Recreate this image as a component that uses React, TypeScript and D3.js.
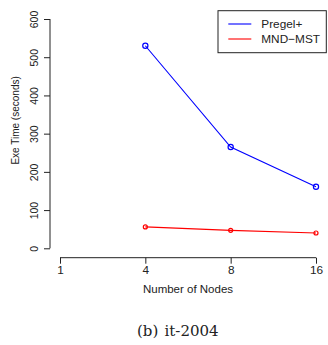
import { useEffect, useRef } from 'react';
import * as d3 from 'd3';

// chart data
const nodeCounts = ['1', '4', '8', '16'];
const seriesNames = ['Pregel+', 'MND-MST'];
const seriesColors = ['#0000ff', '#ff0000'];
const pregelNodes = ['4', '8', '16'];
const pregelTimes = [530, 265, 161];
const mndNodes = ['4', '8', '16'];
const mndTimes = [56, 47, 40];
const yTicks = [0, 100, 200, 300, 400, 500, 600];

const W = 328;
const H = 345;
const sans = 'Liberation Sans, Arial, Helvetica, sans-serif';

export default function App() {
  const svgRef = useRef<SVGSVGElement>(null);

  useEffect(() => {
    const svg = d3.select(svgRef.current);
    svg.selectAll('*').remove();

    const x = d3.scalePoint<string>().domain(nodeCounts).range([60, 316]);
    const y = d3.scaleLinear().domain([0, 600]).range([248.3, 19]);

    // y axis (R style, rotated labels)
    const yAxis = svg.append('g')
      .attr('transform', 'translate(50,0)')
      .call(d3.axisLeft(y).tickValues(yTicks).tickSize(6).tickSizeOuter(0).tickFormat(d3.format('d')));
    yAxis.select('.domain').attr('stroke', '#222').attr('d', `M0,${y(0)}V${y(600)}`);
    yAxis.selectAll('.tick line').attr('stroke', '#222');
    yAxis.selectAll('.tick text')
      .attr('x', null).attr('dy', null)
      .attr('transform', 'translate(-16,0) rotate(-90)')
      .attr('text-anchor', 'middle')
      .attr('dominant-baseline', 'central')
      .attr('fill', '#222')
      .style('font-family', sans)
      .style('font-size', '10.5px');

    // x axis
    const xAxis = svg.append('g')
      .attr('transform', 'translate(0,257.7)')
      .call(d3.axisBottom(x).tickSize(6).tickSizeOuter(0));
    xAxis.select('.domain').attr('stroke', '#222').attr('d', 'M60,0H316');
    xAxis.selectAll('.tick line').attr('stroke', '#222');
    xAxis.selectAll('.tick text')
      .attr('y', 12.5).attr('dy', null)
      .attr('dominant-baseline', 'central')
      .attr('fill', '#222')
      .style('font-family', sans)
      .style('font-size', '11.8px');

    // axis titles
    svg.append('text')
      .attr('x', 188).attr('y', 289)
      .attr('text-anchor', 'middle')
      .attr('dominant-baseline', 'central')
      .attr('fill', '#222')
      .style('font-family', sans)
      .style('font-size', '11.5px')
      .text('Number of Nodes');

    svg.append('text')
      .attr('transform', 'translate(15,120.4) rotate(-90)')
      .attr('text-anchor', 'middle')
      .attr('dominant-baseline', 'central')
      .attr('fill', '#222')
      .style('font-family', sans)
      .style('font-size', '10px')
      .text('Exe Time (seconds)');

    // series
    const series = [
      { nodes: pregelNodes, times: pregelTimes, r: 2.6 },
      { nodes: mndNodes, times: mndTimes, r: 2 },
    ];
    const line = d3.line<[string, number]>()
      .x(d => x(d[0]) as number)
      .y(d => y(d[1]));

    series.forEach((s, i) => {
      const pts = s.nodes.map((n, j) => [n, s.times[j]] as [string, number]);
      svg.append('path')
        .datum(pts)
        .attr('d', line)
        .attr('fill', 'none')
        .attr('stroke', seriesColors[i])
        .attr('stroke-width', 1.1);
      svg.append('g')
        .selectAll('circle')
        .data(pts)
        .enter()
        .append('circle')
        .attr('cx', d => x(d[0]) as number)
        .attr('cy', d => y(d[1]))
        .attr('r', s.r)
        .attr('fill', 'none')
        .attr('stroke', seriesColors[i])
        .attr('stroke-width', 1.2);
    });

    // legend
    const lg = svg.append('g');
    lg.append('rect')
      .attr('x', 218).attr('y', 10.7)
      .attr('width', 108.3).attr('height', 42)
      .attr('fill', 'white')
      .attr('stroke', '#222');
    seriesNames.forEach((name, i) => {
      const ly = 24 + i * 15;
      lg.append('line')
        .attr('x1', 228.3).attr('x2', 251.3)
        .attr('y1', ly).attr('y2', ly)
        .attr('stroke', seriesColors[i])
        .attr('stroke-width', 1.1);
      lg.append('text')
        .attr('x', 261.3).attr('y', ly)
        .attr('dominant-baseline', 'central')
        .attr('fill', '#222')
        .style('font-family', sans)
        .style('font-size', '11.8px')
        .text(name.replace('-', '\u2212'));
    });

    // caption
    svg.append('text')
      .attr('x', 137).attr('y', 331)
      .attr('dominant-baseline', 'central')
      .attr('fill', '#222')
      .style('font-family', 'DejaVu Serif, serif')
      .style('font-size', '15px')
      .text('(b)');
    svg.append('text')
      .attr('x', 164.5).attr('y', 331)
      .attr('dominant-baseline', 'central')
      .attr('fill', '#222')
      .style('font-family', 'DejaVu Serif, serif')
      .style('font-size', '15px')
      .text('it-2004');
  }, []);

  return (
    <svg
      ref={svgRef}
      width={W}
      height={H}
      style={{ position: 'absolute', left: 0, top: 0, background: 'white' }}
    />
  );
}
